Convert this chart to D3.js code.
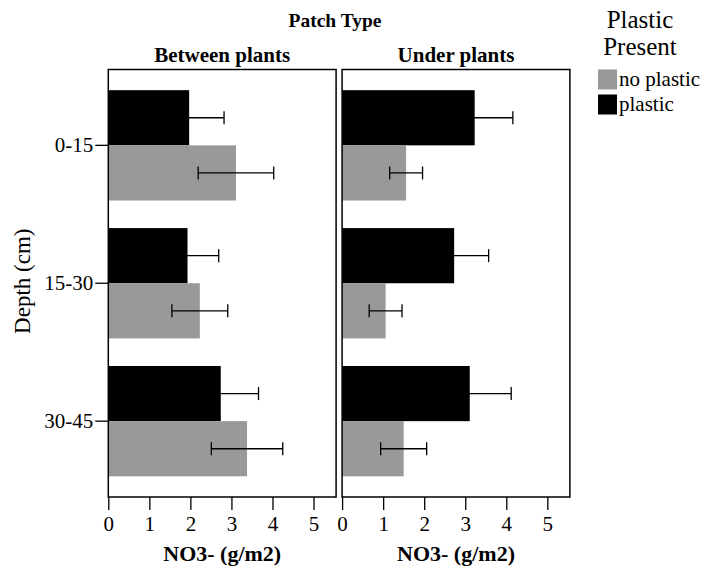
<!DOCTYPE html>
<html>
<head>
<meta charset="utf-8">
<script src="https://cdn.jsdelivr.net/npm/d3@7"></script>
<style>
  body { margin: 0; background: #fff; }
</style>
</head>
<body>
<div id="chart"></div>
<script>
const depths = ["0-15", "15-30", "30-45"];
const panels = ["Between plants", "Under plants"];
const series = ["plastic", "no plastic"];
const xTicks = [0, 1, 2, 3, 4, 5];

// means and standard errors, per panel, in depth order
const betweenPlastic = [1.97, 1.93, 2.74];
const betweenPlasticSE = [0.85, 0.76, 0.92];
const betweenNoPlastic = [3.11, 2.23, 3.38];
const betweenNoPlasticSE = [0.92, 0.68, 0.87];
const underPlastic = [3.23, 2.73, 3.11];
const underPlasticSE = [0.93, 0.84, 1.01];
const underNoPlastic = [1.56, 1.06, 1.50];
const underNoPlasticSE = [0.40, 0.40, 0.56];

const colours = { "plastic": "#000000", "no plastic": "#999999" };

window.onload = function () {
    const w = 704;
    const h = 568;
    const top = 69.5;
    const bottom = 497;
    const left = 108.3;
    const panelW = 227.8;
    const gap = 6;

    const rows = [];
    const values = [
        [betweenPlastic, betweenPlasticSE, betweenNoPlastic, betweenNoPlasticSE],
        [underPlastic, underPlasticSE, underNoPlastic, underNoPlasticSE]
    ];
    panels.forEach((p, pi) => {
        depths.forEach((d, di) => {
            rows.push({ panel: p, depth: d, series: "plastic", mean: values[pi][0][di], se: values[pi][1][di] });
            rows.push({ panel: p, depth: d, series: "no plastic", mean: values[pi][2][di], se: values[pi][3][di] });
        });
    });

    const svg = d3.select("#chart")
        .append("svg")
        .attr("width", w)
        .attr("height", h);

    const yScale = d3.scaleBand()
        .domain(depths)
        .range([top, bottom])
        .paddingInner(0.2)
        .paddingOuter(0.15);

    const ySub = d3.scaleBand()
        .domain(series)
        .range([0, yScale.bandwidth()]);

    const xScale = d3.scaleLinear()
        .domain([0, 5.55])
        .range([0, panelW]);

    panels.forEach((p, pi) => {
        const x0 = left + pi * (panelW + gap);
        const g = svg.append("g").attr("transform", `translate(${x0},0)`);
        const data = rows.filter(r => r.panel === p);

        g.selectAll("rect.bar")
            .data(data)
            .enter()
            .append("rect")
            .attr("class", "bar")
            .attr("x", 0)
            .attr("y", d => yScale(d.depth) + ySub(d.series))
            .attr("width", d => xScale(d.mean))
            .attr("height", ySub.bandwidth())
            .attr("fill", d => colours[d.series]);

        // error bars
        const cap = 6.5;
        const eb = g.selectAll("g.err")
            .data(data)
            .enter()
            .append("g")
            .attr("class", "err")
            .attr("transform", d => `translate(0,${yScale(d.depth) + ySub(d.series) + ySub.bandwidth() / 2})`)
            .attr("stroke", "#000")
            .attr("stroke-width", 1.3);
        eb.append("line")
            .attr("x1", d => xScale(d.mean - d.se))
            .attr("x2", d => xScale(d.mean + d.se));
        eb.append("line")
            .attr("x1", d => xScale(d.mean - d.se))
            .attr("x2", d => xScale(d.mean - d.se))
            .attr("y1", -cap).attr("y2", cap);
        eb.append("line")
            .attr("x1", d => xScale(d.mean + d.se))
            .attr("x2", d => xScale(d.mean + d.se))
            .attr("y1", -cap).attr("y2", cap);

        // panel frame
        g.append("rect")
            .attr("x", 0)
            .attr("y", top)
            .attr("width", panelW)
            .attr("height", bottom - top)
            .attr("fill", "none")
            .attr("stroke", "#000")
            .attr("stroke-width", 1.5);

        const xAxis = g.append("g")
            .attr("transform", `translate(0,${bottom})`)
            .call(d3.axisBottom(xScale).tickValues(xTicks).tickSize(13).tickPadding(6).tickFormat(d3.format("d")));
        xAxis.select(".domain").remove();
        xAxis.selectAll("line").attr("stroke-width", 1.3);
        xAxis.selectAll("text").attr("font-size", "21px");

        g.append("text")
            .attr("x", panelW / 2)
            .attr("y", 62)
            .attr("text-anchor", "middle")
            .attr("font-size", "21px")
            .attr("font-weight", "bold")
            .text(p);

        g.append("text")
            .attr("x", panelW / 2)
            .attr("y", 561)
            .attr("text-anchor", "middle")
            .attr("font-size", "22px")
            .attr("font-weight", "bold")
            .text("NO3- (g/m2)");
    });

    const yAxis = svg.append("g")
        .attr("transform", `translate(${left},0)`)
        .call(d3.axisLeft(yScale).tickSize(13).tickPadding(2));
    yAxis.select(".domain").remove();
    yAxis.selectAll("line").attr("stroke-width", 1.3);
    yAxis.selectAll("text").attr("font-size", "21px");

    svg.append("text")
        .attr("transform", `translate(30,${(top + bottom) / 2 - 2}) rotate(-90)`)
        .attr("text-anchor", "middle")
        .attr("font-size", "23px")
        .text("Depth (cm)");

    svg.append("text")
        .attr("x", 335)
        .attr("y", 27)
        .attr("text-anchor", "middle")
        .attr("font-size", "19.5px")
        .attr("font-weight", "bold")
        .text("Patch Type");

    // legend
    const legend = svg.append("g").attr("transform", "translate(598,0)");
    legend.append("text")
        .attr("x", 42)
        .attr("y", 28)
        .attr("text-anchor", "middle")
        .attr("font-size", "25px")
        .text("Plastic");
    legend.append("text")
        .attr("x", 42)
        .attr("y", 55)
        .attr("text-anchor", "middle")
        .attr("font-size", "25px")
        .text("Present");

    const items = legend.selectAll("g.item")
        .data(series.slice().reverse())
        .enter()
        .append("g")
        .attr("class", "item")
        .attr("transform", (d, i) => `translate(0,${69.5 + i * 25})`);
    items.append("rect")
        .attr("width", 19)
        .attr("height", 20)
        .attr("fill", d => colours[d]);
    items.append("text")
        .attr("x", 21)
        .attr("y", 16.5)
        .attr("font-size", "21px")
        .text(d => d);

    svg.selectAll("text")
        .style("font-family", '"Liberation Serif"')
        .style("fill", "#000");
};
</script>
</body>
</html>
